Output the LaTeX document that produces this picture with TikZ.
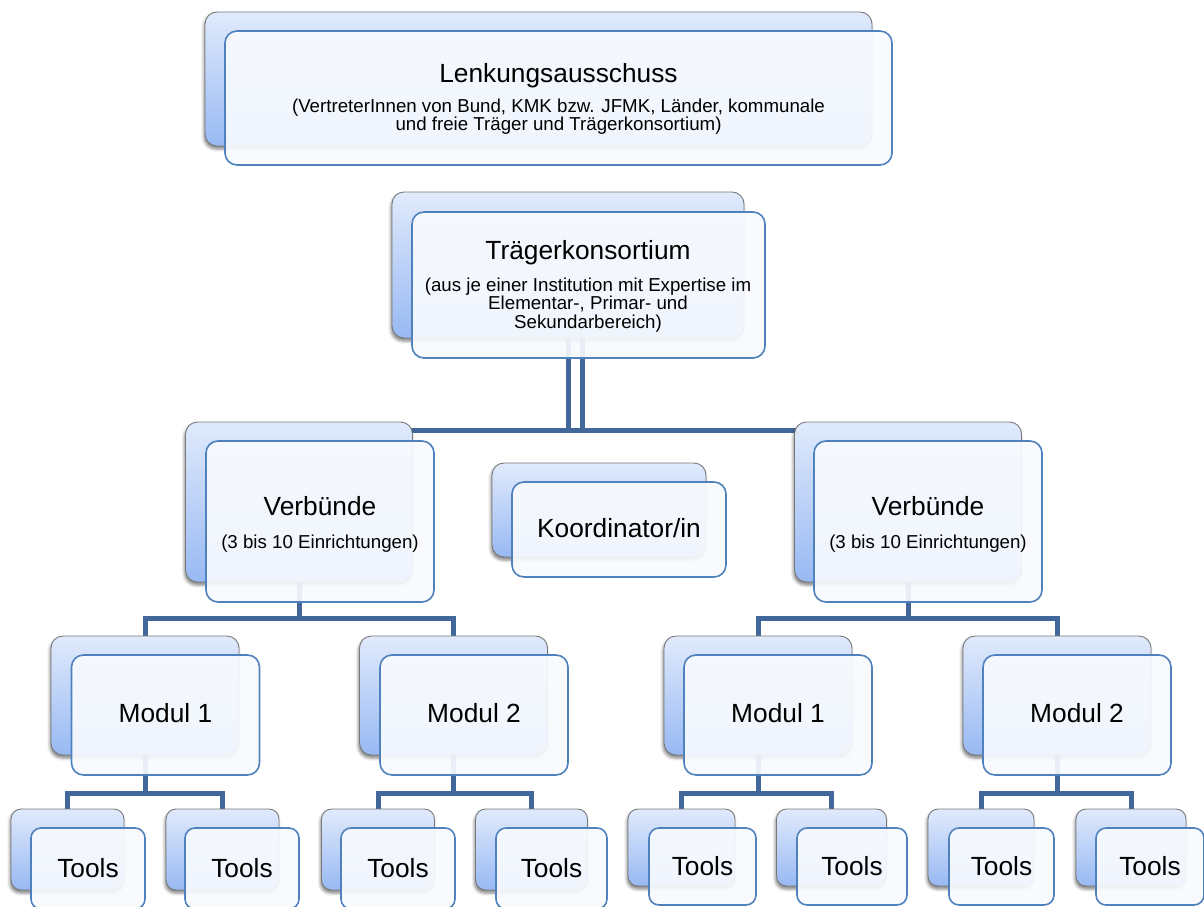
\documentclass[tikz,border=0pt]{standalone}
\usepackage{fontspec}
\setmainfont{Liberation Sans}
\usetikzlibrary{shadows.blur,calc}
\definecolor{lineblue}{RGB}{65,103,155}
\definecolor{frontdraw}{RGB}{79,129,189}
\definecolor{frontfill}{RGB}{248,250,254}
\definecolor{backtop}{RGB}{224,234,252}
\definecolor{backbot}{RGB}{152,185,243}
\definecolor{backdraw}{RGB}{120,120,120}
\tikzset{
  backbox/.style={rectangle, rounded corners=12pt, draw=backdraw, line width=0.9pt,
    top color=backtop, bottom color=backbot, inner sep=0pt, outer sep=0pt,
    blur shadow={shadow xshift=-1pt, shadow yshift=-3pt, shadow blur radius=3pt, shadow opacity=50}},
  frontbox/.style={rectangle, rounded corners=12pt, draw=frontdraw, line width=1.6pt,
    fill=frontfill, fill opacity=0.92, inner sep=0pt, outer sep=0pt},
  conn/.style={draw=lineblue, line width=5pt},
  ttl/.style={anchor=base, font=\fontsize{26.3pt}{30pt}\selectfont, inner sep=0pt},
  sub/.style={anchor=base, font=\fontsize{18.7pt}{20pt}\selectfont, inner sep=0pt},
  slot/.style={inner sep=0pt, outer sep=0pt},
  tlb/.style={rounded corners=10pt},
}
\begin{document}
\begin{tikzpicture}[x=1pt,y=-1pt]
\useasboundingbox (0,0) rectangle (1204,907);
\clip (0,0) rectangle (1204,907);
% ---------- coordinates of buses
\coordinate (bus0) at (575,430);
\coordinate (busL) at (299,618);
\coordinate (busR) at (908,618);
\coordinate (bml1) at (145,793);
\coordinate (bml2) at (453.5,793);
\coordinate (bmr1) at (758,793);
\coordinate (bmr2) at (1057,793);
% ---------- back box placeholders (named)
\path
  (538.5,79) node[slot, minimum width=667pt, minimum height=134pt] (lk-b) {}
  (568,265) node[slot, minimum width=352pt, minimum height=146pt] (tk-b) {}
  (299,502) node[slot, minimum width=227pt, minimum height=160pt] (vl-b) {}
  (908,502) node[slot, minimum width=227pt, minimum height=160pt] (vr-b) {}
  (599,510) node[slot, minimum width=214pt, minimum height=94pt] (ko-b) {}
  (145,695.5) node[slot, minimum width=188pt, minimum height=119pt] (lm1-b) {}
  (453.5,695.5) node[slot, minimum width=188pt, minimum height=119pt] (lm2-b) {}
  (758,695.5) node[slot, minimum width=188pt, minimum height=119pt] (rm1-b) {}
  (1057,695.5) node[slot, minimum width=188pt, minimum height=119pt] (rm2-b) {}
  (67.5,849.5) node[slot, minimum width=113pt, minimum height=81pt] (t1-b) {}
  (222.5,849.5) node[slot, minimum width=113pt, minimum height=81pt] (t2-b) {}
  (378,849.5) node[slot, minimum width=113pt, minimum height=81pt] (t3-b) {}
  (531.5,849.5) node[slot, minimum width=112pt, minimum height=81pt] (t4-b) {}
  (681.5,847.5) node[slot, minimum width=107pt, minimum height=77pt] (t5-b) {}
  (831.5,847.5) node[slot, minimum width=110pt, minimum height=77pt] (t6-b) {}
  (981,847.5) node[slot, minimum width=106pt, minimum height=77pt] (t7-b) {}
  (1131,847.5) node[slot, minimum width=110pt, minimum height=77pt] (t8-b) {};
% ---------- connectors
\path ([xshift=14pt]tk-b.south) coordinate (tk-a);
\draw[conn] (tk-b.south) -- (tk-b.south |- bus0);
\draw[conn] (tk-a) -- (tk-a |- bus0);
\draw[conn] (vl-b.center |- bus0) -- (vr-b.center |- bus0);
\draw[conn] (vl-b.south) -- (busL);
\draw[conn] (lm1-b.north) |- (busL) -| (lm2-b.north);
\draw[conn] (vr-b.south) -- (busR);
\draw[conn] (rm1-b.north) |- (busR) -| (rm2-b.north);
\draw[conn] (lm1-b.south) -- (bml1);
\draw[conn] (t1-b.north) |- (bml1) -| (t2-b.north);
\draw[conn] (lm2-b.south) -- (bml2);
\draw[conn] (t3-b.north) |- (bml2) -| (t4-b.north);
\draw[conn] (rm1-b.south) -- (bmr1);
\draw[conn] (t5-b.north) |- (bmr1) -| (t6-b.north);
\draw[conn] (rm2-b.south) -- (bmr2);
\draw[conn] (t7-b.north) |- (bmr2) -| (t8-b.north);
% ---------- back boxes
\foreach \n in {lk-b,tk-b,vl-b,vr-b,ko-b,lm1-b,lm2-b,rm1-b,rm2-b}
  \path[backbox] (\n.north west) rectangle (\n.south east);
\foreach \n in {t1-b,t2-b,t3-b,t4-b,t5-b,t6-b,t7-b,t8-b}
  \path[backbox,tlb] (\n.north west) rectangle (\n.south east);
% ---------- front boxes
\node[frontbox, minimum width=667pt, minimum height=134pt] (lk) at (558.5,98) {};
\node[frontbox, minimum width=353pt, minimum height=146pt] (tk) at (588.5,285) {};
\node[frontbox, minimum width=228pt, minimum height=161pt] (vl) at (320,521.5) {};
\node[frontbox, minimum width=228pt, minimum height=161pt] (vr) at (928,521.5) {};
\node[frontbox, minimum width=214pt, minimum height=95pt] (ko) at (619,529.5) {};
\node[frontbox, minimum width=188pt, minimum height=120pt] (lm1) at (165.5,715) {};
\node[frontbox, minimum width=188pt, minimum height=120pt] (lm2) at (474,715) {};
\node[frontbox, minimum width=188pt, minimum height=120pt] (rm1) at (778,715) {};
\node[frontbox, minimum width=188pt, minimum height=120pt] (rm2) at (1077,715) {};
\node[frontbox, tlb, minimum width=114pt, minimum height=81pt] (t1) at (88,868.5) {};
\node[frontbox, tlb, minimum width=114pt, minimum height=81pt] (t2) at (242,868.5) {};
\node[frontbox, tlb, minimum width=114pt, minimum height=81pt] (t3) at (398,868.5) {};
\node[frontbox, tlb, minimum width=111pt, minimum height=81pt] (t4) at (551.5,868.5) {};
\node[frontbox, tlb, minimum width=107pt, minimum height=77pt] (t5) at (702.5,866.5) {};
\node[frontbox, tlb, minimum width=110pt, minimum height=77pt] (t6) at (852,866.5) {};
\node[frontbox, tlb, minimum width=105pt, minimum height=77pt] (t7) at (1001.5,866.5) {};
\node[frontbox, tlb, minimum width=108pt, minimum height=77pt] (t8) at (1150,866.5) {};
% ---------- texts
\node[ttl] (lk-t) at (558.5,82) {Lenkungsausschuss};
\node[sub] (lk-s1) at (558.5,112.5) {(VertreterInnen von Bund, KMK bzw. JFMK, Länder, kommunale};
\node[sub] (lk-s2) at (558.5,130) {und freie Träger und Trägerkonsortium)};
\node[ttl] (tk-t) at (588,259) {Trägerkonsortium};
\node[sub] (tk-s1) at (588,291) {(aus je einer Institution mit Expertise im};
\node[sub] (tk-s2) at (588,309.5) {Elementar-, Primar- und};
\node[sub] (tk-s3) at (588,328) {Sekundarbereich)};
\node[ttl] (vl-t) at (320,515) {Verbünde};
\node[sub] (vl-s) at (320,548) {(3 bis 10 Einrichtungen)};
\node[ttl] (vr-t) at (928,515) {Verbünde};
\node[sub] (vr-s) at (928,548) {(3 bis 10 Einrichtungen)};
\node[ttl] (ko-t) at (619,537) {Koordinator/in};
\node[ttl] (lm1-t) at (165.5,722) {Modul 1};
\node[ttl] (lm2-t) at (474,722) {Modul 2};
\node[ttl] (rm1-t) at (778,722) {Modul 1};
\node[ttl] (rm2-t) at (1077,722) {Modul 2};
\node[ttl] (t1-t) at (88,877) {Tools};
\node[ttl] (t2-t) at (242,877) {Tools};
\node[ttl] (t3-t) at (398,877) {Tools};
\node[ttl] (t4-t) at (551.5,877) {Tools};
\node[ttl] (t5-t) at (702.5,875) {Tools};
\node[ttl] (t6-t) at (852,875) {Tools};
\node[ttl] (t7-t) at (1001.5,875) {Tools};
\node[ttl] (t8-t) at (1150,875) {Tools};
\end{tikzpicture}
\end{document}
